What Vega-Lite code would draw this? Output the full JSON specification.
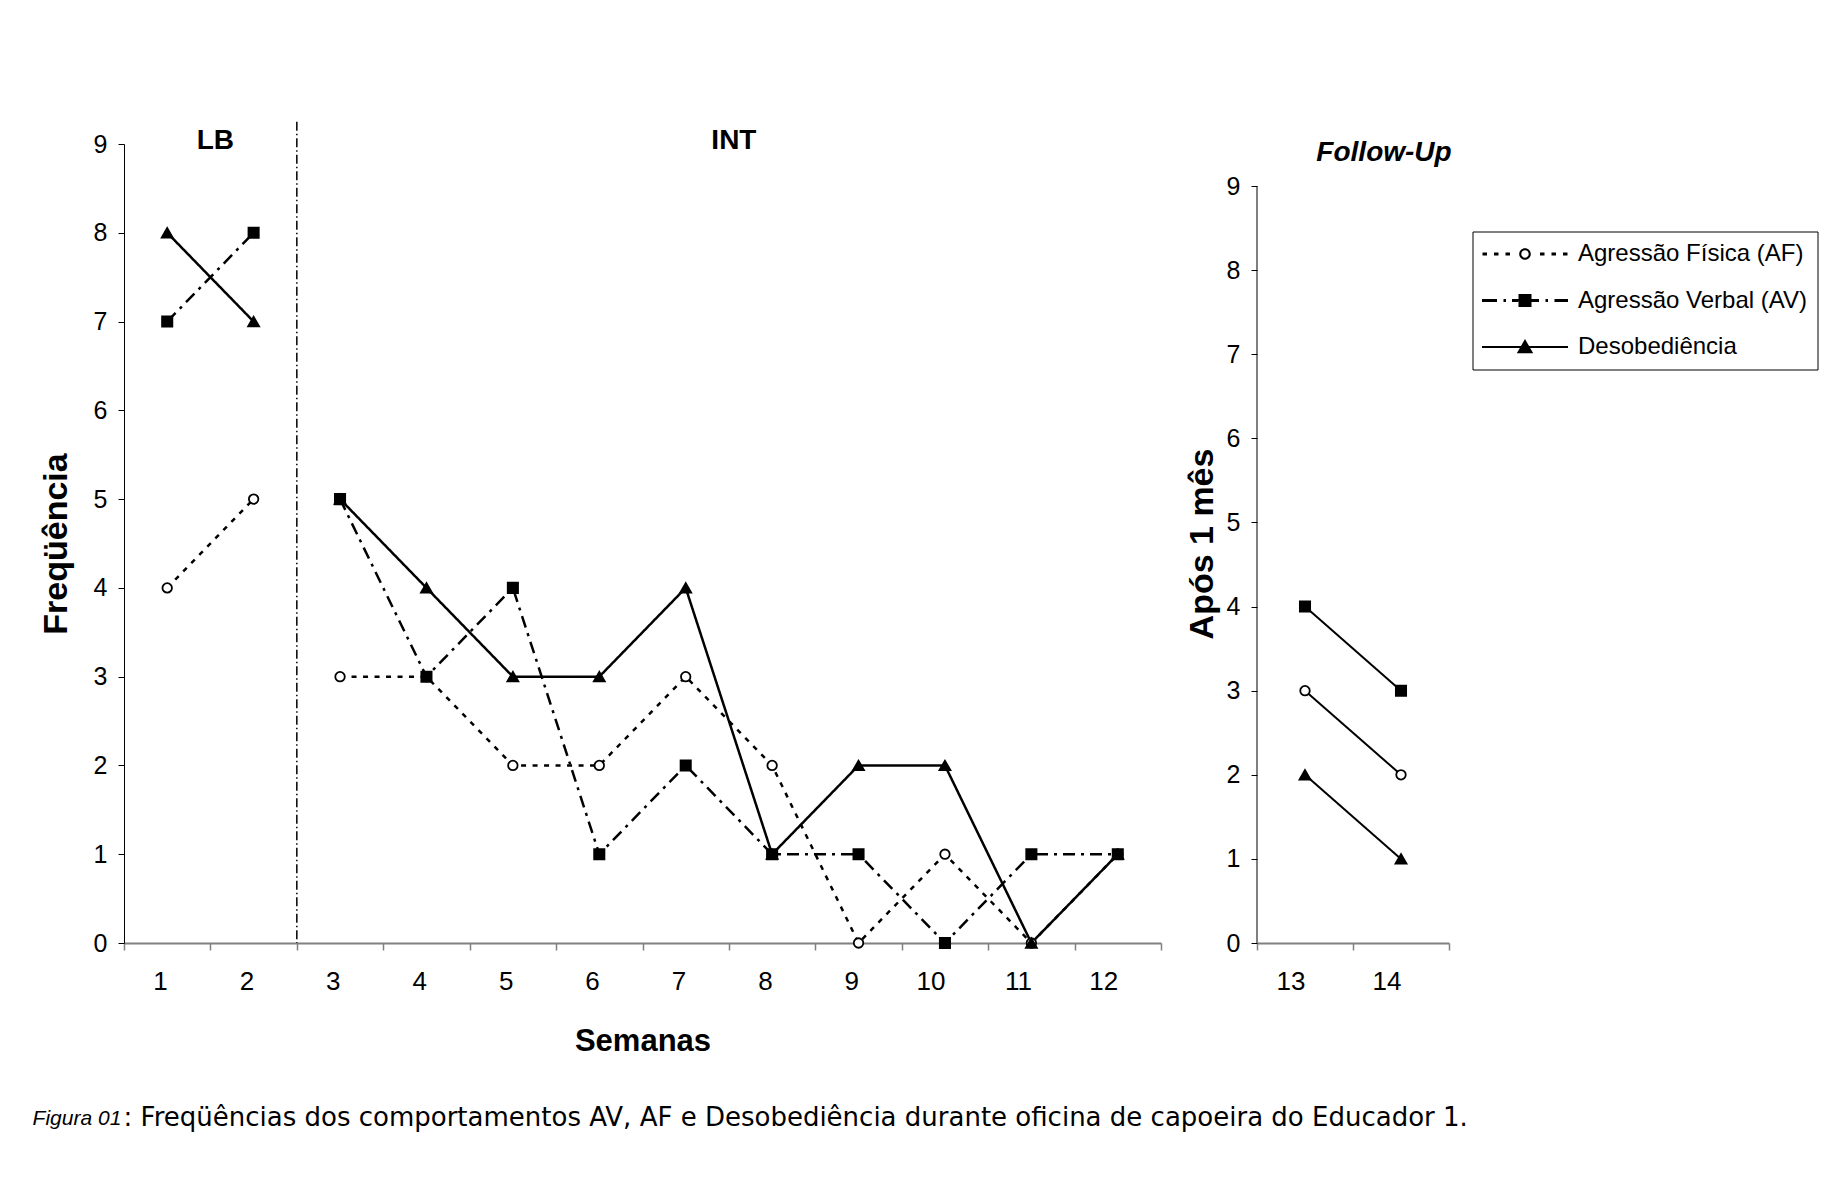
{
  "$schema": "https://vega.github.io/schema/vega-lite/v6.json",
  "background": "white",
  "padding": {"left": 32, "top": 121, "right": 4, "bottom": 4},
  "config": {
    "font": "Liberation Sans",
    "view": {"stroke": null},
    "axis": {"grid": false, "labelColor": "black", "titleColor": "black", "labelFont": "Liberation Sans", "titleFont": "Liberation Sans"},
    "title": {"font": "Liberation Sans", "color": "black"}
  },
  "datasets": {
    "intervencao": [
      {"semana": 1, "fase": "LB", "serie": "Agressão Física (AF)", "freq": 4},
      {"semana": 2, "fase": "LB", "serie": "Agressão Física (AF)", "freq": 5},
      {"semana": 3, "fase": "INT", "serie": "Agressão Física (AF)", "freq": 3},
      {"semana": 4, "fase": "INT", "serie": "Agressão Física (AF)", "freq": 3},
      {"semana": 5, "fase": "INT", "serie": "Agressão Física (AF)", "freq": 2},
      {"semana": 6, "fase": "INT", "serie": "Agressão Física (AF)", "freq": 2},
      {"semana": 7, "fase": "INT", "serie": "Agressão Física (AF)", "freq": 3},
      {"semana": 8, "fase": "INT", "serie": "Agressão Física (AF)", "freq": 2},
      {"semana": 9, "fase": "INT", "serie": "Agressão Física (AF)", "freq": 0},
      {"semana": 10, "fase": "INT", "serie": "Agressão Física (AF)", "freq": 1},
      {"semana": 11, "fase": "INT", "serie": "Agressão Física (AF)", "freq": 0},
      {"semana": 12, "fase": "INT", "serie": "Agressão Física (AF)", "freq": 1},
      {"semana": 1, "fase": "LB", "serie": "Agressão Verbal (AV)", "freq": 7},
      {"semana": 2, "fase": "LB", "serie": "Agressão Verbal (AV)", "freq": 8},
      {"semana": 3, "fase": "INT", "serie": "Agressão Verbal (AV)", "freq": 5},
      {"semana": 4, "fase": "INT", "serie": "Agressão Verbal (AV)", "freq": 3},
      {"semana": 5, "fase": "INT", "serie": "Agressão Verbal (AV)", "freq": 4},
      {"semana": 6, "fase": "INT", "serie": "Agressão Verbal (AV)", "freq": 1},
      {"semana": 7, "fase": "INT", "serie": "Agressão Verbal (AV)", "freq": 2},
      {"semana": 8, "fase": "INT", "serie": "Agressão Verbal (AV)", "freq": 1},
      {"semana": 9, "fase": "INT", "serie": "Agressão Verbal (AV)", "freq": 1},
      {"semana": 10, "fase": "INT", "serie": "Agressão Verbal (AV)", "freq": 0},
      {"semana": 11, "fase": "INT", "serie": "Agressão Verbal (AV)", "freq": 1},
      {"semana": 12, "fase": "INT", "serie": "Agressão Verbal (AV)", "freq": 1},
      {"semana": 1, "fase": "LB", "serie": "Desobediência", "freq": 8},
      {"semana": 2, "fase": "LB", "serie": "Desobediência", "freq": 7},
      {"semana": 3, "fase": "INT", "serie": "Desobediência", "freq": 5},
      {"semana": 4, "fase": "INT", "serie": "Desobediência", "freq": 4},
      {"semana": 5, "fase": "INT", "serie": "Desobediência", "freq": 3},
      {"semana": 6, "fase": "INT", "serie": "Desobediência", "freq": 3},
      {"semana": 7, "fase": "INT", "serie": "Desobediência", "freq": 4},
      {"semana": 8, "fase": "INT", "serie": "Desobediência", "freq": 1},
      {"semana": 9, "fase": "INT", "serie": "Desobediência", "freq": 2},
      {"semana": 10, "fase": "INT", "serie": "Desobediência", "freq": 2},
      {"semana": 11, "fase": "INT", "serie": "Desobediência", "freq": 0},
      {"semana": 12, "fase": "INT", "serie": "Desobediência", "freq": 1}
    ],
    "followup": [
      {"semana": 13, "serie": "Agressão Física (AF)", "freq": 3},
      {"semana": 14, "serie": "Agressão Física (AF)", "freq": 2},
      {"semana": 13, "serie": "Agressão Verbal (AV)", "freq": 4},
      {"semana": 14, "serie": "Agressão Verbal (AV)", "freq": 3},
      {"semana": 13, "serie": "Desobediência", "freq": 2},
      {"semana": 14, "serie": "Desobediência", "freq": 1}
    ]
  },
  "title": {
    "text": "Figura 01",
    "orient": "bottom", "anchor": "start", "baseline": "alphabetic",
    "fontSize": 21, "fontStyle": "italic", "fontWeight": "normal",
    "offset": -5.6, "dx": -7
  },
  "vconcat": [
    {
      "title": {
        "text": ": Freqüências dos comportamentos AV, AF e Desobediência durante oficina de capoeira do Educador 1.",
        "orient": "bottom", "anchor": "start", "baseline": "alphabetic",
        "font": "DejaVu Sans", "fontSize": 26, "fontWeight": "normal",
        "offset": 70, "dx": 84
      },
      "spacing": 23,
      "resolve": {
        "scale": {"shape": "independent", "fill": "independent", "size": "independent", "strokeDash": "independent", "strokeWidth": "independent"},
        "legend": {"shape": "independent", "fill": "independent", "size": "independent", "strokeDash": "independent", "strokeWidth": "independent"}
      },
      "hconcat": [
        {
          "width": 1037,
          "height": 799,
          "layer": [
            {
              "data": {"values": [{"semana": 2}]},
              "mark": {"type": "rule", "color": "black", "strokeWidth": 1.5, "strokeDash": [9, 3, 1.5, 3]},
              "encoding": {
                "x": {"field": "semana", "type": "ordinal", "bandPosition": 1},
                "y": {"datum": 9.25, "type": "quantitative"},
                "y2": {"datum": 0}
              }
            },
            {
              "data": {"name": "intervencao"},
              "mark": {"type": "line", "color": "black"},
              "encoding": {
                "x": {
                  "field": "semana", "type": "ordinal",
                  "scale": {"type": "band", "paddingInner": 0, "paddingOuter": 0},
                  "axis": {
                    "title": "Semanas", "labelAngle": 0, "tickBand": "extent",
                    "domainColor": "#808080", "domainWidth": 2,
                    "tickColor": "#808080", "tickWidth": 1.5, "tickSize": 7,
                    "labelFontSize": 26, "labelPadding": 31,
                    "titleFontSize": 31, "titleFontWeight": "bold", "titlePadding": 32
                  }
                },
                "y": {
                  "field": "freq", "type": "quantitative",
                  "scale": {"domain": [0, 9], "nice": false},
                  "axis": {
                    "title": "Freqüência", "values": [0, 1, 2, 3, 4, 5, 6, 7, 8, 9], "format": "d",
                    "domainColor": "black", "tickColor": "black", "tickSize": 6,
                    "labelFontSize": 25, "labelPadding": 11,
                    "titleFontSize": 34, "titleFontWeight": "bold", "titlePadding": 19.5
                  }
                },
                "detail": {"field": "fase"},
                "strokeDash": {
                  "field": "serie",
                  "scale": {
                    "domain": ["Agressão Física (AF)", "Agressão Verbal (AV)", "Desobediência"],
                    "range": [[5, 6.5], [12, 6, 3, 6], [1, 0]]
                  },
                  "legend": null
                },
                "strokeWidth": {
                  "field": "serie",
                  "scale": {
                    "domain": ["Agressão Física (AF)", "Agressão Verbal (AV)", "Desobediência"],
                    "range": [2.5, 2.5, 2]
                  },
                  "legend": null
                }
              }
            },
            {
              "data": {"name": "intervencao"},
              "mark": {"type": "point", "filled": true, "stroke": "black", "strokeWidth": 1.8, "opacity": 1},
              "encoding": {
                "x": {"field": "semana", "type": "ordinal"},
                "y": {"field": "freq", "type": "quantitative"},
                "shape": {
                  "field": "serie",
                  "scale": {
                    "domain": ["Agressão Física (AF)", "Agressão Verbal (AV)", "Desobediência"],
                    "range": ["circle", "square", "triangle-up"]
                  },
                  "legend": null
                },
                "fill": {
                  "field": "serie",
                  "scale": {
                    "domain": ["Agressão Física (AF)", "Agressão Verbal (AV)", "Desobediência"],
                    "range": ["white", "black", "black"]
                  },
                  "legend": null
                },
                "size": {
                  "field": "serie",
                  "scale": {
                    "domain": ["Agressão Física (AF)", "Agressão Verbal (AV)", "Desobediência"],
                    "range": [90, 120, 240]
                  },
                  "legend": null
                }
              }
            },
            {
              "data": {"values": [{"fase": "LB", "semana": 1}, {"fase": "INT", "semana": 7}]},
              "mark": {"type": "text", "fontSize": 28, "fontWeight": "bold", "color": "black", "baseline": "middle", "align": "center", "dx": 5, "dy": -3},
              "encoding": {
                "x": {"field": "semana", "type": "ordinal", "bandPosition": 1},
                "y": {"datum": 9, "type": "quantitative"},
                "text": {"field": "fase"}
              }
            }
          ]
        },
        {
          "width": 192,
          "height": 799,
          "resolve": {
            "scale": {"shape": "independent"},
            "legend": {"shape": "independent"}
          },
          "layer": [
            {
              "data": {"values": [{"semana": 13}]},
              "mark": {"type": "rule", "color": "black", "strokeWidth": 1},
              "encoding": {
                "x": {"field": "semana", "type": "ordinal", "bandPosition": 0},
                "y": {"datum": 0, "type": "quantitative"},
                "y2": {"datum": 9}
              }
            },
            {
              "data": {"name": "followup"},
              "mark": {"type": "line", "color": "black", "strokeWidth": 2},
              "encoding": {
                "x": {
                  "field": "semana", "type": "ordinal",
                  "scale": {"type": "band", "paddingInner": 0, "paddingOuter": 0},
                  "axis": {
                    "title": null, "labelAngle": 0, "tickBand": "extent",
                    "domainColor": "#808080", "domainWidth": 2,
                    "tickColor": "#808080", "tickWidth": 1.5, "tickSize": 7,
                    "labelFontSize": 26, "labelPadding": 31
                  }
                },
                "y": {
                  "field": "freq", "type": "quantitative",
                  "scale": {"domain": [0, 9.5], "nice": false},
                  "axis": {
                    "title": "Após 1 mês", "values": [0, 1, 2, 3, 4, 5, 6, 7, 8, 9], "format": "d",
                    "domain": false, "tickColor": "black", "tickSize": 6,
                    "labelFontSize": 25, "labelPadding": 11,
                    "titleFontSize": 34, "titleFontWeight": "bold", "titlePadding": 7
                  }
                },
                "detail": {"field": "serie"}
              }
            },
            {
              "data": {"name": "followup"},
              "mark": {"type": "point", "filled": true, "stroke": "black", "strokeWidth": 1.8, "opacity": 1},
              "encoding": {
                "x": {"field": "semana", "type": "ordinal"},
                "y": {"field": "freq", "type": "quantitative"},
                "shape": {
                  "field": "serie",
                  "scale": {
                    "domain": ["Agressão Física (AF)", "Agressão Verbal (AV)", "Desobediência"],
                    "range": ["circle", "square", "triangle-up"]
                  },
                  "legend": null
                },
                "size": {
                  "field": "serie",
                  "scale": {
                    "domain": ["Agressão Física (AF)", "Agressão Verbal (AV)", "Desobediência"],
                    "range": [90, 120, 240]
                  },
                  "legend": null
                },
                "fill": {
                  "field": "serie",
                  "scale": {
                    "domain": ["Agressão Física (AF)", "Agressão Verbal (AV)", "Desobediência"],
                    "range": ["white", "black", "black"]
                  },
                  "legend": null
                }
              }
            },
            {
              "data": {"name": "followup"},
              "mark": {"type": "point", "filled": true, "color": "black", "opacity": 0},
              "encoding": {
                "x": {"field": "semana", "type": "ordinal"},
                "y": {"field": "freq", "type": "quantitative"},
                "shape": {
                  "field": "serie",
                  "scale": {
                    "range": [
                      "M-4.25,-0.15h0.45v0.3h-0.45ZM-3.1,-0.15h0.45v0.3h-0.45ZM-1.95,-0.15h0.45v0.3h-0.45ZM1.5,-0.15h0.45v0.3h-0.45ZM2.65,-0.15h0.45v0.3h-0.45ZM3.8,-0.15h0.45v0.3h-0.45ZM0.58,0A0.58,0.58,0,1,1,-0.58,0A0.58,0.58,0,1,1,0.58,0ZM0.37,0A0.37,0.37,0,1,0,-0.37,0A0.37,0.37,0,1,0,0.37,0Z",
                      "M-4.3,-0.15h1.5v0.3h-1.5ZM-2.15,-0.15h0.25v0.3h-0.25ZM-1.3,-0.15h0.65v0.3h-0.65ZM0.65,-0.15h0.75v0.3h-0.75ZM2.05,-0.15h0.25v0.3h-0.25ZM2.95,-0.15h1.35v0.3h-1.35ZM-0.65,-0.65h1.3v1.3h-1.3Z",
                      "M-4.3,-0.11h8.6v0.22h-8.6ZM0,-0.8L0.82,0.62L-0.82,0.62Z"
                    ]
                  },
                  "legend": {
                    "orient": "none", "legendX": 215.5, "legendY": 87.5,
                    "title": null, "padding": 10.5, "rowPadding": 22.5,
                    "strokeColor": "black", "fillColor": "white",
                    "labelFontSize": 24, "labelColor": "black", "labelFont": "Liberation Sans", "labelLimit": 400,
                    "symbolSize": 400, "symbolOffset": 30, "labelOffset": 41,
                    "symbolFillColor": "black", "symbolStrokeColor": "transparent", "symbolStrokeWidth": 0,
                    "symbolOpacity": 1
                  }
                }
              }
            },
            {
              "data": {"values": [{"fase": "Follow-Up", "semana": 13}]},
              "mark": {"type": "text", "fontSize": 28, "fontWeight": "bold", "fontStyle": "italic", "color": "black", "baseline": "middle", "align": "center", "dx": 31, "dy": -33},
              "encoding": {
                "x": {"field": "semana", "type": "ordinal", "bandPosition": 1},
                "y": {"datum": 9, "type": "quantitative"},
                "text": {"field": "fase"}
              }
            }
          ]
        }
      ]
    }
  ]
}
